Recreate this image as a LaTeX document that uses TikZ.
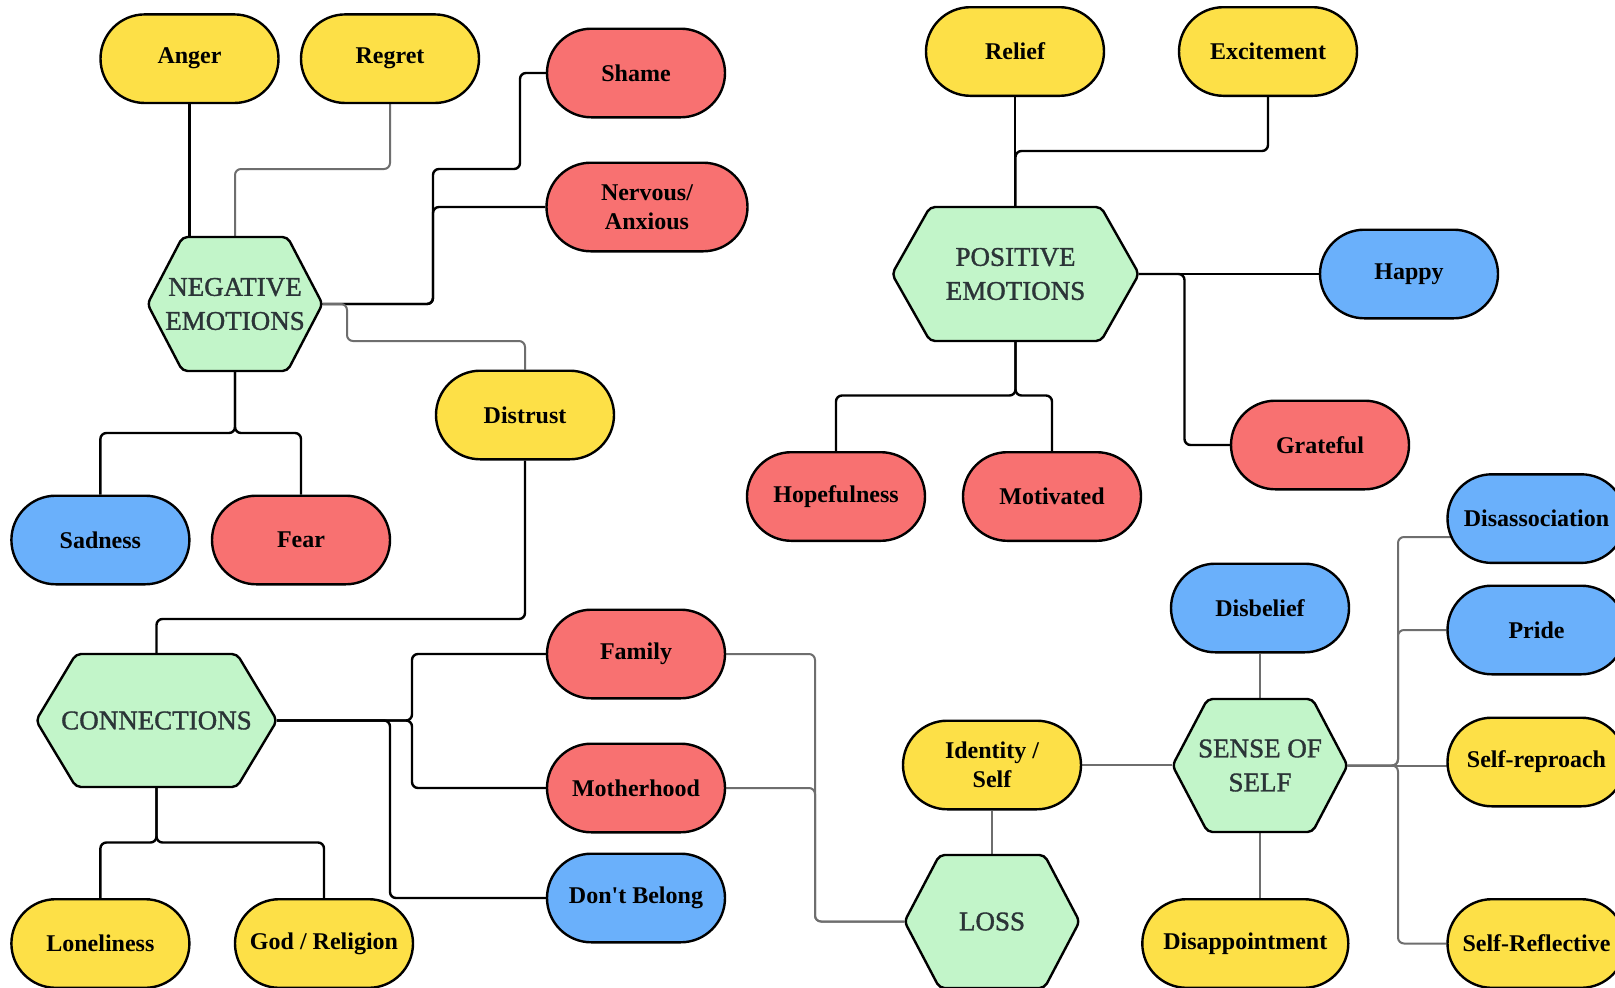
\documentclass[tikz,border=0pt]{standalone}
\usepackage{fontspec}
\setmainfont{Liberation Serif}
\newfontfamily\hexfont[FakeBold=1.3]{Liberation Serif}
\usetikzlibrary{shapes.misc,backgrounds}
\definecolor{cyel}{HTML}{FDE047}
\definecolor{cred}{HTML}{F87171}
\definecolor{cblue}{HTML}{6AB0FB}
\definecolor{cgreen}{HTML}{C2F5C9}
\definecolor{cgray}{HTML}{6E6E6E}
\definecolor{ctext}{HTML}{2B3437}
\tikzset{
 pill/.style={rounded rectangle, draw=black, line width=2.4pt, minimum width=178pt, minimum height=88.6pt, inner sep=0pt, font=\fontsize{24}{29}\selectfont\bfseries, align=center, text=black},
 py/.style={pill, fill=cyel}, pr/.style={pill, fill=cred}, pb/.style={pill, fill=cblue},
 hexshape/.style={fill=cgreen, draw=black, line width=2.4pt, rounded corners=5pt},
 hextext/.style={inner sep=0pt, font=\hexfont\fontsize{27}{34}\selectfont, text=ctext, align=center},
 bl/.style={draw=black, line width=2.4pt, rounded corners=6pt},
 gl/.style={draw=cgray, line width=2pt, rounded corners=6pt},
}
\newcommand\hexnode[7]{%
  \path[hexshape] ({#2-#4/2},#3) -- ({#2-#4/2+#6},{#3-#5/2}) -- ({#2+#4/2-#6},{#3-#5/2}) -- ({#2+#4/2},#3) -- ({#2+#4/2-#6},{#3+#5/2}) -- ({#2-#4/2+#6},{#3+#5/2}) -- cycle;
  \node[hextext, minimum width=#4pt, minimum height=#5pt] (#1) at (#2,#3) {#7};}
\begin{document}
\begin{tikzpicture}[x=1pt,y=-1pt]
\useasboundingbox (0,0) rectangle (1615,988);
% hexagons
\hexnode{neg}{235}{304}{175}{134}{35}{NEGATIVE\\EMOTIONS}
\hexnode{pos}{1015.5}{274}{247}{134}{38}{POSITIVE\\EMOTIONS}
\hexnode{conn}{156.5}{720.5}{241}{133}{40}{CONNECTIONS}
\hexnode{loss}{992}{921.5}{175}{133}{35}{LOSS}
\hexnode{sense}{1260}{765.5}{175}{133}{35}{SENSE OF\\SELF}
% pills
\node[py] (anger) at (189.5,58.7) {Anger};
\node[py] (regret) at (390,58.7) {Regret};
\node[pr] (shame) at (636,73) {Shame};
\node[pr, minimum width=201pt] (nervous) at (647,207) {Nervous/\\Anxious};
\node[py] (distrust) at (525,415) {Distrust};
\node[pb] (sadness) at (100.4,540) {Sadness};
\node[pr] (fear) at (301,540) {Fear};
\node[py] (relief) at (1015,51.5) {Relief};
\node[py] (excite) at (1268,51.5) {Excitement};
\node[pb] (happy) at (1409,274) {Happy};
\node[pr] (grateful) at (1320,445) {Grateful};
\node[pr] (hope) at (836,496.5) {Hopefulness};
\node[pr] (motiv) at (1052,496.5) {Motivated};
\node[pb] (disas) at (1536.5,518.6) {Disassociation};
\node[pb] (disbelief) at (1260,608) {Disbelief};
\node[pb] (pride) at (1536.5,630) {Pride};
\node[py] (identity) at (992,765) {Identity /\\Self};
\node[py] (reproach) at (1536.5,762) {Self-reproach};
\node[py, minimum width=206pt] (disap) at (1245.3,943.5) {Disappointment};
\node[py] (reflect) at (1536.5,943.5) {Self-Reflective};
\node[pr] (family) at (636,654) {Family};
\node[pr] (mother) at (636,788) {Motherhood};
\node[pb] (dont) at (636,898) {Don\textquotesingle t Belong};
\node[py] (lonely) at (100.4,943.5) {Loneliness};
\node[py] (god) at (324,943.5) {God / Religion};
% connectors
\begin{scope}[on background layer]
\fill[white] (0,0) rectangle (1615,988);
% negative emotions
\draw[bl] (anger.south) -- (anger.south |- neg.north);
\draw[bl] (neg.east) -- (433,304) |- (520,169) |- (shame.west);
\draw[bl] (neg.east) -- (433,304) |- (nervous.west);
\draw[gl] (regret.south) -- (regret.south |- 0,169) -| (neg.north);
\draw[gl] (neg.east) -- (347,304) |- (distrust.north |- 0,341) -- (distrust.north);
\draw[bl] (neg.south) -- (neg.south |- 0,433) -| (sadness.north);
\draw[bl] (neg.south) -- (neg.south |- 0,433) -| (fear.north);
% distrust to connections
\draw[bl] (distrust.south) |- (conn.north |- 0,619) -- (conn.north);
% connections
\draw[bl] (conn.east) -- (412,720.5) |- (family.west);
\draw[bl] (conn.east) -- (412,720.5) |- (mother.west);
\draw[bl] (conn.east) -- (390,720.5) |- (dont.west);
\draw[bl] (conn.south) -- (conn.south |- 0,842.5) -| (lonely.north);
\draw[bl] (conn.south) -- (conn.south |- 0,842.5) -| (god.north);
% loss
\draw[gl] (family.east) -- (815,654) |- (loss.west);
\draw[gl] (mother.east) -| (815,921.5) -- (loss.west);
\draw[gl] (identity.south) -- (loss.north);
\draw[gl] (identity.east) -- (identity.east -| sense.west);
% sense of self
\draw[gl] (disbelief.south) -- (sense.north);
\draw[gl] (sense.south) -- (sense.south |- disap.north);
\draw[gl] (sense.east) -- (1398,765.5) |- (disas.center |- 0,537);
\draw[gl] (sense.east) -- (1398,765.5) |- (pride.west);
\draw[gl] (sense.east) -- (sense.east -| reproach.center);
\draw[gl] (sense.east) -- (1398,765.5) |- (reflect.west);
% positive emotions
\draw[bl] (relief.south) -- (relief.south |- pos.north);
\draw[bl] (excite.south) |- (pos.north |- 0,151) -- (pos.north);
\draw[bl] (pos.east) -- (happy.west);
\draw[bl] (pos.east) -- (1184.5,274) |- (grateful.west);
\draw[bl] (pos.south) -- (pos.south |- 0,395.5) -| (hope.north);
\draw[bl] (pos.south) -- (pos.south |- 0,395.5) -| (motiv.north);
\end{scope}
\end{tikzpicture}
\end{document}
